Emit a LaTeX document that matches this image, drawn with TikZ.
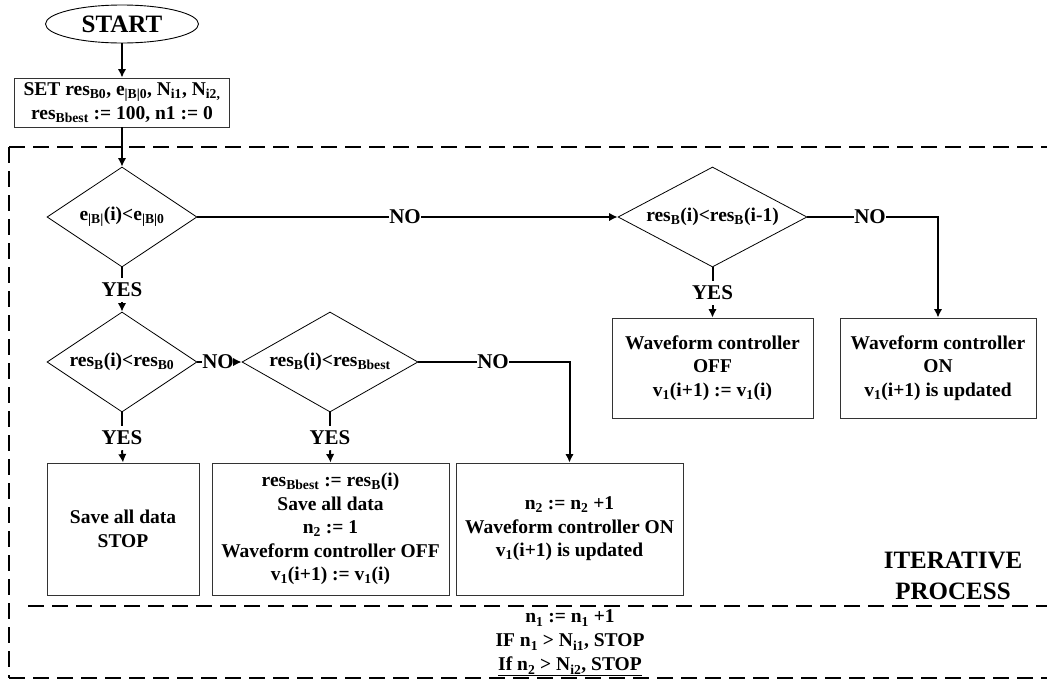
\documentclass[tikz,border=0pt]{standalone}
\usepackage{fontspec}
\setmainfont{Liberation Serif}
\usetikzlibrary{shapes.geometric,arrows.meta}
\newcommand\sub[1]{\textsubscript{#1}}
\begin{document}
\begin{tikzpicture}[x=1pt,y=-1pt,
  every node/.style={font=\fontsize{19.5}{23.5}\selectfont\bfseries},
  box/.style={draw=black!80, line width=0.9pt, align=center, inner sep=0pt},
  dec/.style={draw, diamond, line width=0.8pt, inner sep=0pt, aspect=1},
  lab/.style={inner xsep=0.5pt, inner ysep=5pt, font=\fontsize{21}{24}\selectfont\bfseries},
  conn/.style={line width=2pt},
  arr/.style={conn, -{Latex[length=8.5pt,width=8.5pt]}},
  frame/.style={line width=2pt, dash pattern=on 16pt off 8pt},
]
\useasboundingbox (0,0) rectangle (1047,683);

% dashed frame
\coordinate (fTL) at (9,147);
\coordinate (fTR) at (1047,147);
\coordinate (fBL) at (9,678);
\coordinate (fBR) at (1047,678);
\coordinate (fIL) at (28,606);
\coordinate (fIR) at (1047,606);
\draw[frame] (fTL) -- (fTR);
\draw[frame] (fTL) -- (fBL);
\draw[frame] (fBL) -- (fBR);
\draw[frame] (fIL) -- (fIR);

% nodes
\node[draw, ellipse, line width=0.9pt, inner sep=0pt, minimum width=153pt, minimum height=38pt,
      font=\fontsize{25}{28}\selectfont\bfseries] (start) at (122,24) {START};
\node[box, minimum width=215pt, minimum height=49pt] (set) at (122,102.5)
  {SET res\sub{B0}, e\sub{|B|0}, N\sub{i1}, N\sub{i2,}\\ res\sub{Bbest} := 100, n1 := 0};

\node[dec, minimum width=150pt, minimum height=100pt] (d1) at (122,217)
  {\makebox[0pt]{e\sub{|B|}(i)<e\sub{|B|0}}};
\node[dec, minimum width=189pt, minimum height=100pt] (d4) at (712.5,217)
  {\makebox[0pt]{res\sub{B}(i)<res\sub{B}(i-1)}};
\node[dec, minimum width=150pt, minimum height=100pt] (d2) at (122,362)
  {\makebox[0pt]{res\sub{B}(i)<res\sub{B0}}};
\node[dec, minimum width=176pt, minimum height=100pt] (d3) at (330,362)
  {\makebox[0pt]{res\sub{B}(i)<res\sub{Bbest}}};

\node[box, minimum width=201pt, minimum height=100pt] (b4) at (712.5,368)
  {Waveform controller\\ OFF\\ v\sub{1}(i+1) := v\sub{1}(i)};
\node[box, minimum width=196pt, minimum height=100pt] (b5) at (938,368)
  {Waveform controller\\ ON\\ v\sub{1}(i+1) is updated};

\node[box, minimum width=152pt, minimum height=132pt] (b1) at (123,529)
  {Save all data\\ STOP};
\node[box, minimum width=237pt, minimum height=132pt] (b2) at (330.5,529)
  {res\sub{Bbest} := res\sub{B}(i)\\ Save all data\\ n\sub{2} := 1\\ Waveform controller OFF\\ v\sub{1}(i+1) := v\sub{1}(i)};
\node[box, minimum width=227pt, minimum height=132pt] (b3) at (569.5,529)
  {n\sub{2} := n\sub{2} +1\\ Waveform controller ON\\ v\sub{1}(i+1) is updated};

\node[align=center, font=\fontsize{19.5}{24}\selectfont\bfseries] (cnt) at (570,643)
  {n\sub{1} := n\sub{1} +1\\ IF n\sub{1} > N\sub{i1}, STOP\\ \underline{If n\sub{2} > N\sub{i2}, STOP}};
\node[align=center, font=\fontsize{25}{31}\selectfont\bfseries] (iter) at (953,576)
  {ITERATIVE\\ PROCESS};

% labels
\node[lab] (y1) at (122,290) {YES};
\node[lab] (n1) at (405,217) {NO};
\node[lab] (y4) at (712.5,293) {YES};
\node[lab] (n4) at (870,217) {NO};
\node[lab] (n23) at (218,362) {NO};
\node[lab] (n3) at (493,362) {NO};
\node[lab] (y2) at (122,438) {YES};
\node[lab] (y3) at (330,438) {YES};

% connectors
\draw[arr] (start) -- (set);
\draw[arr] (set) -- (d1);
\draw[conn] (d1.south) -- (y1.north);
\draw[arr] (y1.south) -- (d2.north);
\draw[conn] (d1.east) -- (n1.west);
\draw[arr] (n1.east) -- (d4.west);
\draw[conn] (d4.east) -- (n4.west);
\draw[arr] (n4.east) -| (b5.north);
\draw[conn] (d4.south) -- (y4.north);
\draw[arr] (y4.south) -- (b4.north);
\draw[conn] (d2.east) -- (n23.west);
\draw[arr] (n23.east) -- (d3.west);
\draw[conn] (d3.east) -- (n3.west);
\draw[arr] (n3.east) -| (b3.north);
\draw[conn] (d2.south) -- (y2.north);
\draw[arr] (y2.south) -- (b1.north);
\draw[conn] (d3.south) -- (y3.north);
\draw[arr] (y3.south) -- (b2.north);
\end{tikzpicture}
\end{document}
